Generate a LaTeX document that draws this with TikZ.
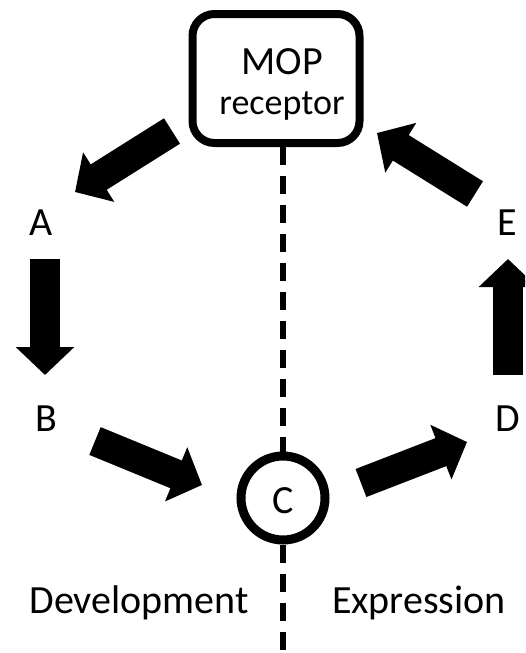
\documentclass[tikz,border=0pt]{standalone}
\usepackage{fontspec}
\setmainfont{Carlito}
\usetikzlibrary{arrows.meta}
\begin{document}
\begin{tikzpicture}[x=1pt,y=-1pt,
  lbl/.style={font=\fontsize{40}{44}\selectfont, inner sep=0pt},
  blk/.style={line width=30pt, -{Triangle[length=28pt,width=57pt]}},
  dsh/.style={line width=6pt, dash pattern=on 18pt off 11pt}]
\useasboundingbox (0,0) rectangle (525,653);
\clip (0,0) rectangle (525,653);
% MOP receptor box
\node[draw, line width=8pt, rounded corners=22pt, minimum width=167pt, minimum height=129pt, inner sep=0pt, align=center] (MOP) at (276,78.5) {};
\node[lbl] (mopt) at (282,62) {MOP};
\node[font=\fontsize{36}{40}\selectfont, inner sep=0pt] (rect) at (282,106) {receptor};
% C circle
\node[draw, circle, line width=9pt, minimum size=84pt, inner sep=0pt] (C) at (283,498) {};
\node[lbl] (Ct) at (283,501) {C};
% letters
\node[lbl] (A) at (41,223) {A};
\node[lbl] (B) at (46,419) {B};
\node[lbl] (D) at (508,419) {D};
\node[lbl] (E) at (507,223) {E};
% labels
\node[lbl, anchor=base] (dev) at (139,613) {Development};
\node[lbl, anchor=base] (exp) at (419,613) {Expression};
% dashed axis
\coordinate (bot) at (283,660);
\draw[dsh] (MOP.south -| C.north) -- (C.north);
\draw[dsh] (C.south) -- (bot);
% block arrows
\coordinate (a1s) at (172,131); \coordinate (a1e) at (75,192);
\coordinate (a2s) at (45,259);  \coordinate (a2e) at (45,375);
\coordinate (a3s) at (95,441);  \coordinate (a3e) at (202,485);
\coordinate (a4s) at (361,483); \coordinate (a4e) at (467,442);
\coordinate (a5s) at (508,375); \coordinate (a5e) at (508,259);
\coordinate (a6s) at (475,194); \coordinate (a6e) at (377,133);
\draw[blk] (a1s) -- (a1e);
\draw[blk] (a2s) -- (a2e);
\draw[blk] (a3s) -- (a3e);
\draw[blk] (a4s) -- (a4e);
\draw[blk] (a5s) -- (a5e);
\draw[blk] (a6s) -- (a6e);
\end{tikzpicture}
\end{document}
